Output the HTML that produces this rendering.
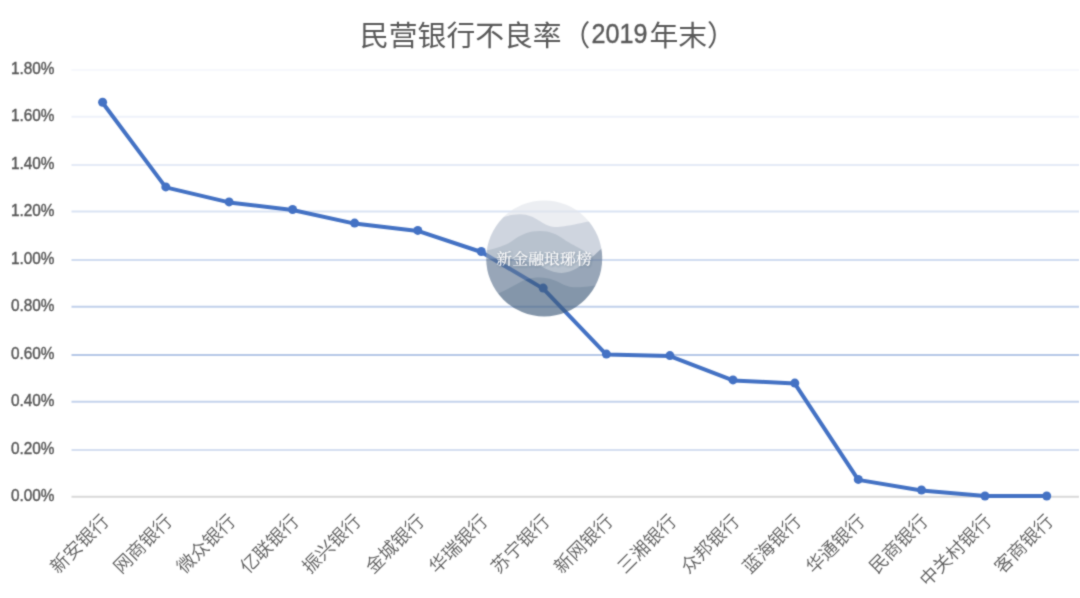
<!DOCTYPE html>
<html lang="zh-CN">
<head>
<meta charset="utf-8">
<title>民营银行不良率（2019年末）</title>
<style>
html,body{margin:0;padding:0;background:#fff;}
body{width:1080px;height:598px;overflow:hidden;}
svg{display:block;opacity:0.999;}
.t{font-family:"Liberation Sans","Noto Sans CJK SC",sans-serif;fill:#595959;}
.yl{font-size:17.3px;stroke:#595959;stroke-width:0.45px;}
.xl{font-size:18.4px;font-weight:350;fill:#5e5e5e;}
.ttl{font-size:28.8px;font-weight:400;}
.wm{font-family:"Liberation Serif","Noto Serif CJK SC",serif;font-weight:500;font-size:15.2px;fill:#fff;}
</style>
</head>
<body>
<svg width="1080" height="598" viewBox="0 0 1080 598">
<defs>
<clipPath id="wc"><circle cx="544.2" cy="258.4" r="58"/></clipPath>
<filter id="sh" x="-10%" y="-30%" width="120%" height="160%"><feDropShadow dx="0.6" dy="0.8" stdDeviation="1" flood-color="#2c3e55" flood-opacity="0.4"/></filter>
<filter id="soft" x="0" y="0" width="1080" height="598" filterUnits="userSpaceOnUse" color-interpolation-filters="sRGB"><feConvolveMatrix order="3" kernelMatrix="0.035 0.1 0.035 0.1 0.46 0.1 0.035 0.1 0.035" divisor="1" edgeMode="duplicate" preserveAlpha="true"/></filter>
</defs>
<g filter="url(#soft)">
<rect width="1080" height="598" fill="#fff"/>
<text class="t ttl" y="45.8"><tspan x="360">民营银行不良率（</tspan><tspan x="591.5" dy="-2.9" font-size="27" stroke="#595959" stroke-width="0.4" textLength="56" lengthAdjust="spacingAndGlyphs">2019</tspan><tspan x="649.4" dy="2.9">年末）</tspan></text>
<g fill="none" stroke-width="2">
<line x1="71.5" x2="1079" y1="70.0" y2="70.0" stroke="#f6f8fc"/>
<line x1="71.5" x2="1079" y1="116.8" y2="116.8" stroke="#eef2fa"/>
<line x1="71.5" x2="1079" y1="165.0" y2="165.0" stroke="#e4eaf6"/>
<line x1="71.5" x2="1079" y1="211.5" y2="211.5" stroke="#dae3f3"/>
<line x1="71.5" x2="1079" y1="260.0" y2="260.0" stroke="#d0dcf0"/>
<line x1="71.5" x2="1079" y1="306.8" y2="306.8" stroke="#c0d0eb"/>
<line x1="71.5" x2="1079" y1="355.0" y2="355.0" stroke="#b6c8e7"/>
<line x1="71.5" x2="1079" y1="401.7" y2="401.7" stroke="#c4d3ec"/>
<line x1="71.5" x2="1079" y1="450.1" y2="450.1" stroke="#d5dff1"/>
<line x1="71.5" x2="1079" y1="496.8" y2="496.8" stroke="#d9d9d9"/>
</g>
<g class="t yl">
<text x="10.9" y="74.2" textLength="43.6" lengthAdjust="spacingAndGlyphs">1.80%</text>
<text x="10.9" y="121.0" textLength="43.6" lengthAdjust="spacingAndGlyphs">1.60%</text>
<text x="10.9" y="169.2" textLength="43.6" lengthAdjust="spacingAndGlyphs">1.40%</text>
<text x="10.9" y="215.7" textLength="43.6" lengthAdjust="spacingAndGlyphs">1.20%</text>
<text x="10.9" y="264.2" textLength="43.6" lengthAdjust="spacingAndGlyphs">1.00%</text>
<text x="10.9" y="311.0" textLength="43.6" lengthAdjust="spacingAndGlyphs">0.80%</text>
<text x="10.9" y="359.2" textLength="43.6" lengthAdjust="spacingAndGlyphs">0.60%</text>
<text x="10.9" y="405.9" textLength="43.6" lengthAdjust="spacingAndGlyphs">0.40%</text>
<text x="10.9" y="454.3" textLength="43.6" lengthAdjust="spacingAndGlyphs">0.20%</text>
<text x="10.9" y="501.0" textLength="43.6" lengthAdjust="spacingAndGlyphs">0.00%</text>
</g>
<g class="t xl" text-anchor="end">
<text transform="translate(110.1,522.5) rotate(-45)">新安银行</text>
<text transform="translate(173.3,522.5) rotate(-45)">网商银行</text>
<text transform="translate(236.6,522.5) rotate(-45)">微众银行</text>
<text transform="translate(300.1,522.5) rotate(-45)">亿联银行</text>
<text transform="translate(362.1,522.5) rotate(-45)">振兴银行</text>
<text transform="translate(425.3,522.5) rotate(-45)">金城银行</text>
<text transform="translate(488.8,522.5) rotate(-45)">华瑞银行</text>
<text transform="translate(550.7,522.5) rotate(-45)">苏宁银行</text>
<text transform="translate(613.9,522.5) rotate(-45)">新网银行</text>
<text transform="translate(677.4,522.5) rotate(-45)">三湘银行</text>
<text transform="translate(740.5,522.5) rotate(-45)">众邦银行</text>
<text transform="translate(802.3,522.5) rotate(-45)">蓝海银行</text>
<text transform="translate(865.8,522.5) rotate(-45)">华通银行</text>
<text transform="translate(929.0,522.5) rotate(-45)">民商银行</text>
<text transform="translate(992.5,522.5) rotate(-45)">中关村银行</text>
<text transform="translate(1054.2,522.5) rotate(-45)">客商银行</text>
</g>
<polyline points="102.6,102.8 165.8,187.4 229.1,202.4 292.6,210.0 354.6,223.6 417.8,230.9 481.3,252.0 543.2,288.6 606.4,354.6 669.9,356.1 733.0,380.4 794.8,383.6 858.3,479.9 921.5,490.5 985.0,496.1 1046.7,496.1" fill="none" stroke="#4472c4" stroke-width="4" stroke-linejoin="round" stroke-linecap="round"/>
<g fill="#4472c4">
<circle cx="102.6" cy="102.3" r="4.5"/>
<circle cx="165.8" cy="186.9" r="4.5"/>
<circle cx="229.1" cy="201.9" r="4.5"/>
<circle cx="292.6" cy="209.5" r="4.5"/>
<circle cx="354.6" cy="223.1" r="4.5"/>
<circle cx="417.8" cy="230.4" r="4.5"/>
<circle cx="481.3" cy="251.5" r="4.5"/>
<circle cx="543.2" cy="288.1" r="4.5"/>
<circle cx="606.4" cy="354.1" r="4.5"/>
<circle cx="669.9" cy="355.6" r="4.5"/>
<circle cx="733.0" cy="379.9" r="4.5"/>
<circle cx="794.8" cy="383.1" r="4.5"/>
<circle cx="858.3" cy="479.4" r="4.5"/>
<circle cx="921.5" cy="490.0" r="4.5"/>
<circle cx="985.0" cy="496.0" r="4.5"/>
<circle cx="1046.7" cy="496.0" r="4.5"/>
</g>
<g opacity="0.64" clip-path="url(#wc)">
<rect x="486" y="200" width="117" height="117" fill="#e1e4eb"/>
<path d="M486 225 C496 219,508 214.5,519.7 214.3 C536 214,542 226.5,554.6 226.9 C566 227.3,578 223,603 219 L603 317 L486 317 Z" fill="#b4bdcd"/>
<path d="M486 250.5 C498 248,506 245,512.5 240.7 C522 234,530 231,540.2 231.1 C550 231.2,556 234,564.2 239.5 C572 245,580 247.5,603 262 L603 317 L486 317 Z" fill="#90a0b2"/>
<path d="M486 259 C500 258.5,520 257,539 265.6 C548 270,554 273,561.8 272.9 C572 272.7,584 266,603 247 L603 317 L486 317 Z" fill="#5e7590"/>
<path d="M486 298 C494 296,506 290,519.7 282.5 C528 278,534 277.5,540 277.6 C550 277.8,556 281,564.2 284.9 C574 289,584 287.5,603 284 L603 317 L486 317 Z" fill="#3f5b7a"/>
</g>
<text class="wm" x="544.1" y="264.3" text-anchor="middle" textLength="95.5" lengthAdjust="spacingAndGlyphs" filter="url(#sh)" opacity="0.96">新金融琅琊榜</text>
</g>
</svg>
</body>
</html>
